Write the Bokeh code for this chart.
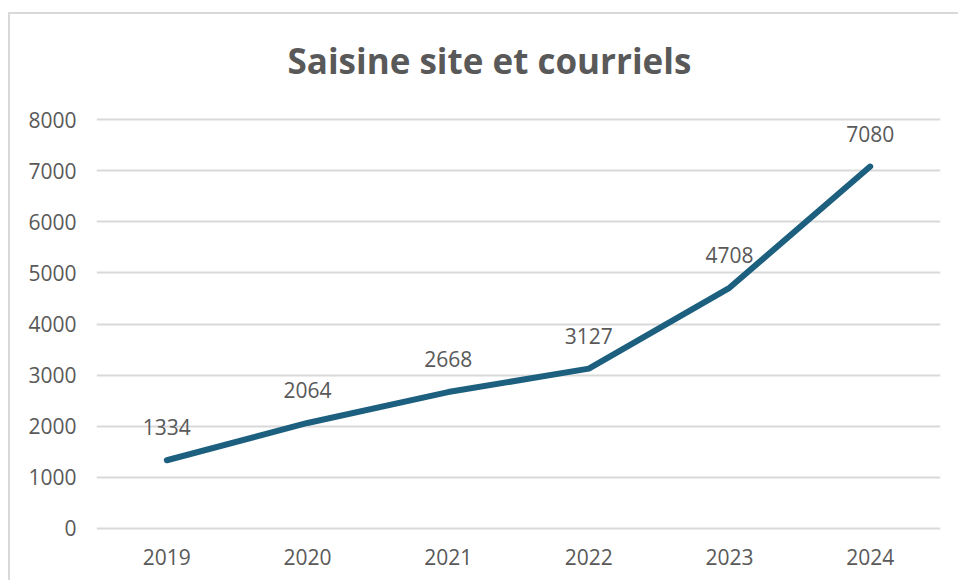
from bokeh.plotting import figure
from bokeh.models import ColumnDataSource, FixedTicker, Range1d, FactorRange
from bokeh.core.properties import value
from bokeh.embed import file_html
from bokeh.resources import INLINE

years = ["2019", "2020", "2021", "2022", "2023", "2024"]
counts = [1334, 2064, 2668, 3127, 4708, 7080]
y_ticks = [0, 1000, 2000, 3000, 4000, 5000, 6000, 7000, 8000]
title_text = "Saisine site et courriels"

src = ColumnDataSource(dict(x=years, y=counts, label=[str(v) for v in counts]))

bg = ("linear-gradient(#d9d9d9,#d9d9d9) 8px 12px / 2px 100% no-repeat, "
      "linear-gradient(#d9d9d9,#d9d9d9) 8px 12px / 100% 2px no-repeat, white")

p = figure(width=958, height=580, x_range=FactorRange(*years, range_padding=0),
           y_range=Range1d(-40, 8040), output_backend="svg", toolbar_location=None,
           min_border_left=96, min_border_right=18, min_border_top=117, min_border_bottom=50,
           styles={"background": bg})

p.title.text = title_text
p.title.align = "left"
p.title.offset = 191
p.title.text_font = "Open Sans"
p.title.text_font_size = "35px"
p.title.text_font_style = "bold"
p.title.text_color = "#595959"
p.title.standoff = 68

p.outline_line_color = None
p.background_fill_color = None
p.border_fill_color = None

p.xgrid.grid_line_color = None
p.ygrid.grid_line_color = "#d9d9d9"
p.ygrid.grid_line_width = 2
p.yaxis.ticker = FixedTicker(ticks=y_ticks)

for ax in (p.xaxis, p.yaxis):
    ax.axis_line_color = None
    ax.major_tick_line_color = None
    ax.minor_tick_line_color = None
    ax.major_label_text_font = "Open Sans"
    ax.major_label_text_font_size = "21px"
    ax.major_label_text_color = "#595959"
p.yaxis.major_label_standoff = 14
p.xaxis.major_label_standoff = 12

p.line("x", "y", source=src, line_color="#1c5f7f", line_width=6, line_cap="round", line_join="round")
p.text("x", "y", text="label", source=src, text_align="center", text_baseline="middle",
       y_offset=-33, text_font=value("Open Sans"), text_font_size="21px", text_color="#595959")

open("out.html", "w").write(file_html(p, INLINE))
